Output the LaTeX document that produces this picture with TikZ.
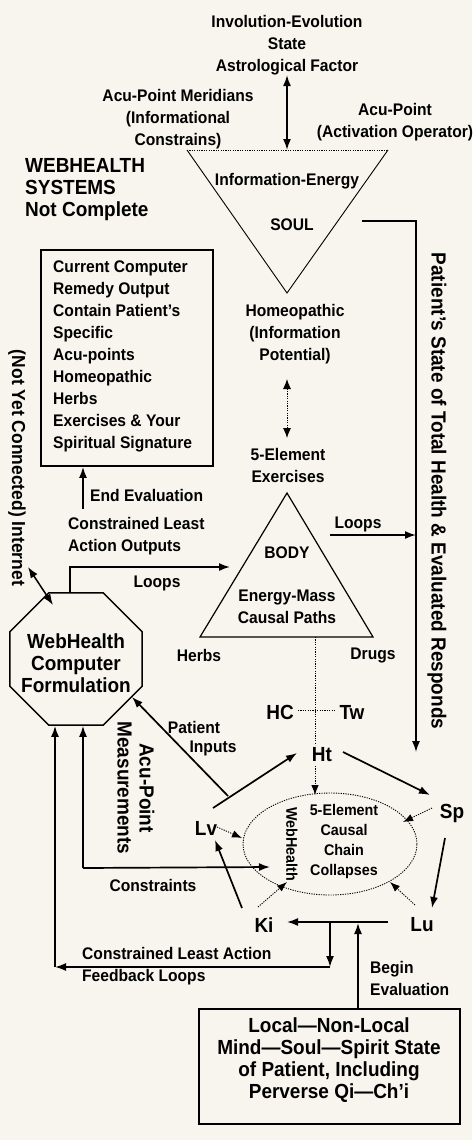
\documentclass[tikz,border=0pt]{standalone}
\usepackage{fontspec}
\setmainfont{Liberation Sans}[FakeStretch=0.93]
\usetikzlibrary{arrows.meta,shapes.geometric,calc}
\definecolor{paper}{RGB}{247,245,237}
\newcommand\txs{\fontsize{16.8}{22}\selectfont\bfseries}
\newcommand\txl{\fontsize{20.4}{22}\selectfont\bfseries}
\newcommand\txm{\fontsize{18.8}{22}\selectfont\bfseries}
\newcommand\txe{\fontsize{15.4}{20}\selectfont\bfseries}
\begin{document}
\begin{tikzpicture}[x=1pt,y=-1pt,
  lbl/.style={font=\txs, inner sep=0pt, align=center},
  lbll/.style={font=\txs, inner sep=0pt, align=left, anchor=west},
  big/.style={font=\txl, inner sep=0pt, align=center},
  arr/.style={line width=1.7pt, -{Latex[length=11pt,width=8pt]}},
  darr/.style={line width=1.7pt, {Latex[length=11pt,width=8pt]}-{Latex[length=11pt,width=8pt]}},
  dotl/.style={line width=0.9pt, dash pattern=on 1.2pt off 1.2pt},
  dotarr/.style={dotl, -{Latex[length=10pt,width=7.5pt]}},
  thinl/.style={line width=0.9pt},
  boxed/.style={draw, line width=1.8pt, inner sep=0pt}
]
\fill[paper] (0,0) rectangle (472,1140);
\useasboundingbox (0,0) rectangle (472,1140);

% ---- top: soul
\node[lbl] (inv) at (287,45) {Involution-Evolution\\State\\Astrological Factor};
\coordinate (sTL) at (187,150);
\coordinate (sTR) at (388,150);
\coordinate (sTop) at (287,150);
\coordinate (sB) at (287,293);
\draw[thinl] (sTL) -- (sB) -- (sTR);
\draw[dotl] (sTL) -- (sTR);
\draw[darr] (inv.south) -- (sTop);
\node[lbl] (mer) at (178,119) {Acu-Point Meridians\\(Informational\\Constrains)};
\node[lbl] (act) at (395,122.5) {Acu-Point\\(Activation Operator)};
\node[big, align=left, anchor=west] (web) at (25,189.5) {WEBHEALTH\\SYSTEMS\\Not Complete};
\node[lbl] (ie) at (287,181) {Information-Energy};
\node[lbl] (soul) at (292,225) {SOUL};

% ---- right column
\coordinate (pst0) at (416,752);
\draw[arr, line width=1.4pt] ($(soul)+(70,-4)$) -| (pst0);
\node[big, rotate=-90] (pst) at (437,491) {Patient's State of Total Health \& Evaluated Responds};

% ---- remedy box
\node[boxed, minimum width=172pt, minimum height=216pt] (rem) at (127,358) {};
\node[lbll] (remt) at (53,356) {Current Computer\\Remedy Output\\Contain Patient's\\Specific\\Acu-points\\Homeopathic\\Herbs\\Exercises \& Your\\Spiritual Signature};

% ---- middle column
\node[lbl] (hom) at (295,334) {Homeopathic\\(Information\\Potential)};
\coordinate (hA) at (287,379);
\coordinate (hB) at (287,438);
\draw[dotl, {Latex[length=10pt,width=8pt]}-{Latex[length=10pt,width=8pt]}] (hA) -- (hB);
\node[lbl] (five) at (288,465) {5-Element\\Exercises};

% ---- body
\coordinate (bA) at (287,493);
\coordinate (bL) at (200,637);
\coordinate (bR) at (373,637);
\coordinate (bM) at (315,637);
\draw[line width=1.2pt] (bA) -- (bL) -- (bR) -- cycle;
\node[lbl] (body) at (287,553) {BODY};
\node[lbl] (em) at (287,607) {Energy-Mass\\Causal Paths};
\node[lbl] (loopR) at (358,524) {Loops};
\coordinate (lpA) at (330,535);
\draw[arr] (lpA) -- (lpA -| pst0);
\node[lbl] (herbs) at (199,655) {Herbs};
\node[lbl] (drugs) at (373,655) {Drugs};

% ---- HC / Tw / Ht
\node[big] (hc) at (280,712) {HC};
\node[big] (tw) at (352,712) {Tw};
\draw[dotl] ($(hc.east)+(4,-2)$) -- ($(tw.west)+(-4,-2)$);
\node[big] (ht) at (322,755) {Ht};
\draw[dotl] (bM) -- ($(ht)+(-7,-10)$);
\draw[dotarr] ($(ht)+(-7,11)$) -- ($(ht)+(-7,40)$);

% ---- ellipse
\node[ellipse, draw, dotl, minimum width=174pt, minimum height=102pt, inner sep=0pt] (ell) at (330,844) {};
\node[font=\txe, inner sep=0pt, rotate=-90] (ewh) at (292,844) {WebHealth};
\node[font=\txe, inner sep=0pt, align=center] (ecc) at (344,842) {5-Element\\Causal\\Chain\\Collapses};

\node[big] (sp) at (452,813) {Sp};
\node[big] (lv) at (206,828) {Lv};
\node[big] (ki) at (264,925) {Ki};
\node[big] (lu) at (422,925) {Lu};

\draw[arr] ($(ht)+(21,-3)$) -- ($(sp)+(-22,-18)$);
\draw[arr] ($(sp)+(-7,25)$) -- ($(lu)+(10,-17)$);
\draw[arr] ($(lu)+(-34,-3)$) -- ($(ki)+(23,-3)$);
\draw[arr] ($(ki)+(-22,-17)$) -- ($(lv)+(9,12)$);
\draw[arr] ($(lv)+(7,-20)$) -- ($(ht)+(-25,-2)$);

\draw[dotarr] ($(lv)+(11,-1)$) -- ($(ell)+(-88,-6)$);
\draw[dotarr] ($(sp)+(-20,-5)$) -- ($(ell)+(73,-22)$);
\draw[dotarr] ($(ki)+(-6,-18)$) -- ($(ell)+(-43,38)$);
\draw[dotarr] ($(lu)+(-7,-20)$) -- ($(ell)+(60,38)$);

% ---- octagon
\node[regular polygon, regular polygon sides=8, draw, line width=1.5pt, minimum size=143pt, inner sep=0pt] (oct) at (76,659) {};
\node[big] (octt) at (76,663.5) {WebHealth\\Computer\\Formulation};

\draw[arr] ($(oct.north)+(-6,0)$) |- ($(bA)+(-57,74)$);
\node[lbl] (loopL) at (157,583) {Loops};
\node[lbll] (clao) at (68,536) {Constrained Least\\Action Outputs};
\draw[arr] ($(rem.south)+(-44,42)$) -- ($(rem.south)+(-44,0)$);
\node[lbll] (endev) at (90,495) {End Evaluation};

\coordinate (inA) at (28,567);
\coordinate (inB) at (53,605);
\draw[darr, line width=1.5pt] (inA) -- (inB);
\node[font=\txm, inner sep=0pt, rotate=-90] (inet) at (17,468) {(Not Yet Connected) Internet};

\node[big, rotate=-90] (acum) at (136,788) {Acu-Point\\Measurements};

\node[lbl] (pin1) at (194,727) {Patient};
\node[lbl] (pin2) at (213,748) {Inputs};
\coordinate (pinS) at (228,796);
\draw[arr] (pinS) -- ($(oct)+(56,38)$);

\coordinate (cstc) at (83,868);
\draw[arr] (cstc) -- (oct.south -| cstc);
\draw[arr] (cstc) -- ($(ell)+(-60,23)$);
\node[lbl] (cons) at (153,885) {Constraints};

% ---- feedback loop
\coordinate (jn) at (330,922);
\coordinate (fbR) at (330,967);
\coordinate (fbL) at (55,967);
\draw[arr] (jn) -- (fbR);
\draw[arr] (fbR) -- (fbL);
\draw[arr] (fbL) -- (oct.south -| fbL);
\node[lbll] (fbl) at (82,966.5) {Constrained Least Action\\Feedback Loops};

% ---- bottom box
\node[boxed, minimum width=261pt, minimum height=115pt] (loc) at (329.5,1066.5) {};
\node[big] (loct) at (329,1060) {Local—Non-Local\\Mind—Soul—Spirit State\\of Patient, Including\\Perverse Qi—Ch'i};
\coordinate (bev) at (358,923);
\draw[arr] (loc.north -| bev) -- (bev);
\node[lbll] (bevl) at (370,978.5) {Begin\\Evaluation};
\end{tikzpicture}
\end{document}
